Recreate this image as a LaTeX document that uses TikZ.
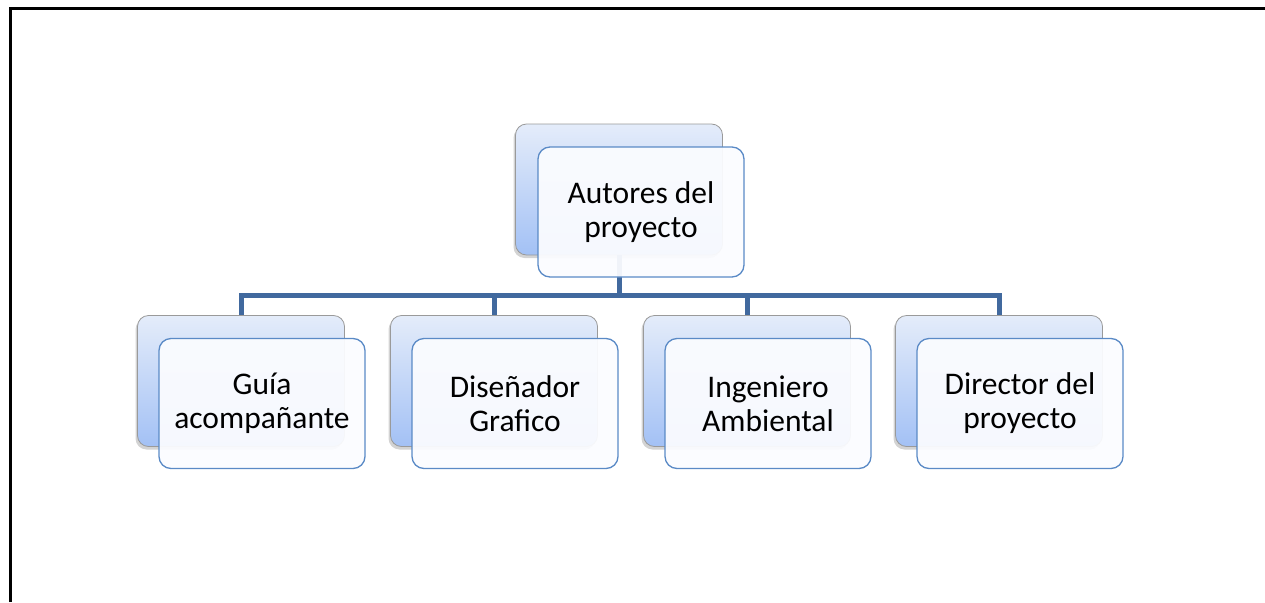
\documentclass[tikz,border=0pt]{standalone}
\usepackage{fontspec}
\setmainfont{Carlito}
\usetikzlibrary{shadows}
\definecolor{linkblue}{HTML}{41699E}
\definecolor{frontline}{HTML}{5A8AC6}
\definecolor{frontfill}{HTML}{FBFCFF}
\definecolor{backtop}{HTML}{E4ECFA}
\definecolor{backbottom}{HTML}{A3C1F5}
\definecolor{backline}{HTML}{9A9A9A}
\tikzset{
	backbox/.style={rounded corners=11pt, minimum width=207pt, minimum height=131pt, draw=backline, line width=0.8pt, top color=backtop, bottom color=backbottom, drop shadow={shadow xshift=-2pt, shadow yshift=-3pt, opacity=0.35}},
	frontbox/.style={rounded corners=12pt, minimum width=206pt, minimum height=130pt, draw=frontline, line width=1.3pt, fill=frontfill, fill opacity=0.94, text opacity=1, align=center, font=\fontsize{31.5}{34}\selectfont},
	linkline/.style={line width=5pt, color=linkblue}
}
\begin{document}
\begin{tikzpicture}[x=1pt, y=-1pt]
		%%%%% START %%%%%
		\useasboundingbox (0, 0) rectangle (1265, 602);
		
		\draw[line width=3pt] (10, 602) -- (10, 9) -- (1265, 9);
		
		\node[backbox] (autoresBack) at (619, 189.5) {};
		\node[backbox] (guiaBack) at (241, 381) {};
		\node[backbox] (disenadorBack) at (494, 381) {};
		\node[backbox] (ingenieroBack) at (747, 381) {};
		\node[backbox] (directorBack) at (999, 381) {};
		
		\coordinate (bar) at (619, 295);
		\draw[linkline] (autoresBack.south) -- (bar);
		\foreach \n in {guiaBack, disenadorBack, ingenieroBack, directorBack}
			\draw[linkline] (bar) -| (\n.north);
		
		\node[frontbox] (autores) at (641, 212) {Autores del\\proyecto};
		\node[frontbox] (guia) at (262, 403.5) {Guía\\acompañante};
		\node[frontbox] (disenador) at (515, 403.5) {Diseñador\\Grafico};
		\node[frontbox] (ingeniero) at (768, 403.5) {Ingeniero\\Ambiental};
		\node[frontbox] (director) at (1020, 403.5) {Director del\\proyecto};
		
		%%%%% END %%%%%
\end{tikzpicture}
\end{document}
